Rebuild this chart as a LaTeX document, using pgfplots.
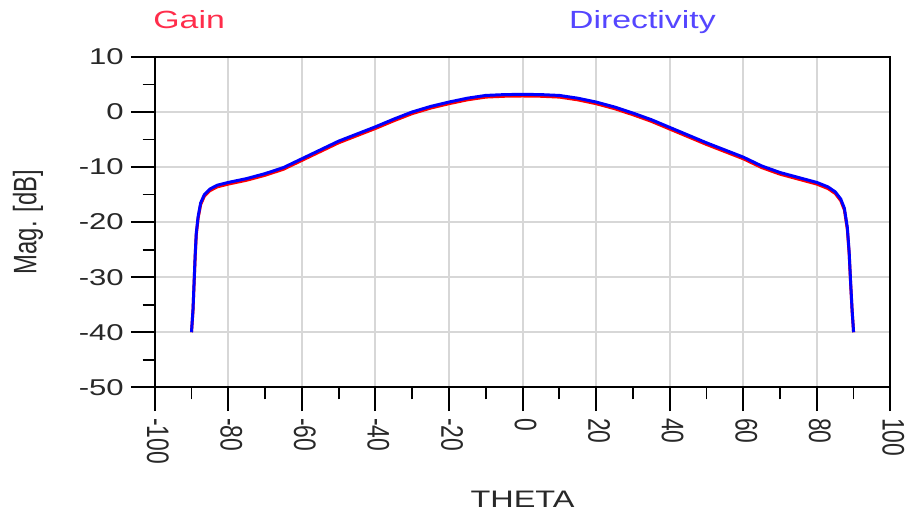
\documentclass[border=0pt]{standalone}
\usepackage{pgfplots}
\pgfplotsset{compat=1.18}
\usepackage{pgfplotstable}
\usepackage{fontspec}
\setmainfont{Liberation Sans}
\usepackage{graphicx}

\definecolor{gaincol}{RGB}{255,0,0}
\definecolor{dircol}{RGB}{0,0,255}
\definecolor{gaintitle}{RGB}{255,45,75}
\definecolor{dirtitle}{RGB}{85,70,255}
\definecolor{gridgray}{RGB}{215,215,215}
\definecolor{labelgray}{RGB}{40,40,40}

% text in this chart is set slightly wide
\newcommand{\wide}[1]{\scalebox{1.36}[1]{#1}}
\newcommand{\tall}[1]{\scalebox{1}[1.36]{#1}}

% radiation pattern cut: directivity [dB] vs theta [deg]
\pgfplotstableread{
theta  dir
-90.0 -40.0
-89.6 -36.0
-89.3 -31.0
-89.0 -26.0
-88.7 -22.0
-88.2 -19.0
-87.5 -16.5
-86.5 -15.0
-85.0 -14.0
-83.0 -13.3
-80.0 -12.8
-75.0 -12.1
-70.0 -11.2
-65.0 -10.1
-60.0 -8.5
-55.0 -6.9
-50.0 -5.3
-45.0 -4.0
-40.0 -2.7
-35.0 -1.3
-30.0 0.0
-25.0 1.0
-20.0 1.8
-15.0 2.5
-10.0 3.0
-5.0 3.15
0.0 3.2
5.0 3.15
10.0 3.0
15.0 2.5
20.0 1.8
25.0 0.9
30.0 -0.2
35.0 -1.4
40.0 -2.8
45.0 -4.2
50.0 -5.6
55.0 -6.9
60.0 -8.2
65.0 -9.8
70.0 -11.0
75.0 -11.9
80.0 -12.8
83.0 -13.6
85.0 -14.5
86.5 -15.8
87.5 -17.5
88.3 -21.0
88.8 -25.5
89.2 -31.0
89.6 -36.0
90.0 -40.0
}\dirtable

% gain [dB] vs theta [deg]
\pgfplotstableread{
theta  gain
-90.0 -40.0
-89.6 -36.2
-89.3 -31.3
-89.0 -26.3
-88.7 -22.3
-88.2 -19.3
-87.5 -16.8
-86.5 -15.3
-85.0 -14.3
-83.0 -13.6
-80.0 -13.1
-75.0 -12.4
-70.0 -11.5
-65.0 -10.4
-60.0 -8.8
-55.0 -7.2
-50.0 -5.6
-45.0 -4.3
-40.0 -3.0
-35.0 -1.6
-30.0 -0.3
-25.0 0.7
-20.0 1.5
-15.0 2.2
-10.0 2.7
-5.0 2.85
0.0 2.9
5.0 2.85
10.0 2.7
15.0 2.2
20.0 1.5
25.0 0.6
30.0 -0.5
35.0 -1.7
40.0 -3.1
45.0 -4.5
50.0 -5.9
55.0 -7.2
60.0 -8.5
65.0 -10.1
70.0 -11.3
75.0 -12.2
80.0 -13.1
83.0 -13.9
85.0 -14.8
86.5 -16.1
87.5 -17.8
88.3 -21.3
88.8 -25.8
89.2 -31.3
89.6 -36.2
90.0 -40.0
}\gaintable

\begin{document}
\begin{tikzpicture}
\begin{axis}[
  scale only axis,
  width=368.5bp, height=165.5bp,
  xmin=-100, xmax=100, ymin=-50, ymax=10,
  xtick={-100,-80,...,100},
  ytick={-50,-40,...,10},
  minor x tick num=1, minor y tick num=1,
  xtick pos=lower, ytick pos=left,
  tick align=outside,
  major tick length=12bp, minor tick length=6bp,
  grid=major,
  major grid style={gridgray, line width=1bp},
  axis line style={black, line width=1bp},
  major tick style={black, line width=1bp},
  minor tick style={black, line width=0.9bp},
  /pgf/number format/assume math mode=true,
  tick label style={font=\fontsize{11.5}{13}\selectfont, text=labelgray},
  yticklabel={\wide{\pgfmathprintnumber{\tick}}},
  xticklabel={\tall{\pgfmathprintnumber{\tick}}},
  xticklabel style={rotate=-90, anchor=west, yshift=1.5bp},
  xlabel={\wide{THETA}},
  xlabel style={at={(rel axis cs:0.5,0)}, anchor=center, yshift=-56bp,
    font=\fontsize{12}{14}\selectfont, text=labelgray},
  ylabel={\tall{Mag. [dB]}},
  ylabel style={at={(rel axis cs:0,0.5)}, anchor=center, yshift=63.5bp,
    font=\fontsize{12}{14}\selectfont, text=labelgray},
  clip=false,
]
\addplot[gaincol, line width=1.5bp] table[x=theta, y=gain] {\gaintable};
\addplot[dircol, line width=1.5bp] table[x=theta, y=dir] {\dirtable};

\node[anchor=base, text=gaintitle, font=\fontsize{12.5}{14}\selectfont]
  at (rel axis cs:0.0468,1) [yshift=14bp] {\wide{Gain}};
\node[anchor=base, text=dirtitle, font=\fontsize{12.5}{14}\selectfont]
  at (rel axis cs:0.663,1) [yshift=14bp] {\wide{Directivity}};
\end{axis}
% page frame around the chart
\path (current axis.south west) ++(-77.5bp,-65bp);
\path (current axis.north east) ++(9.5bp,28.5bp);
\end{tikzpicture}
\end{document}
